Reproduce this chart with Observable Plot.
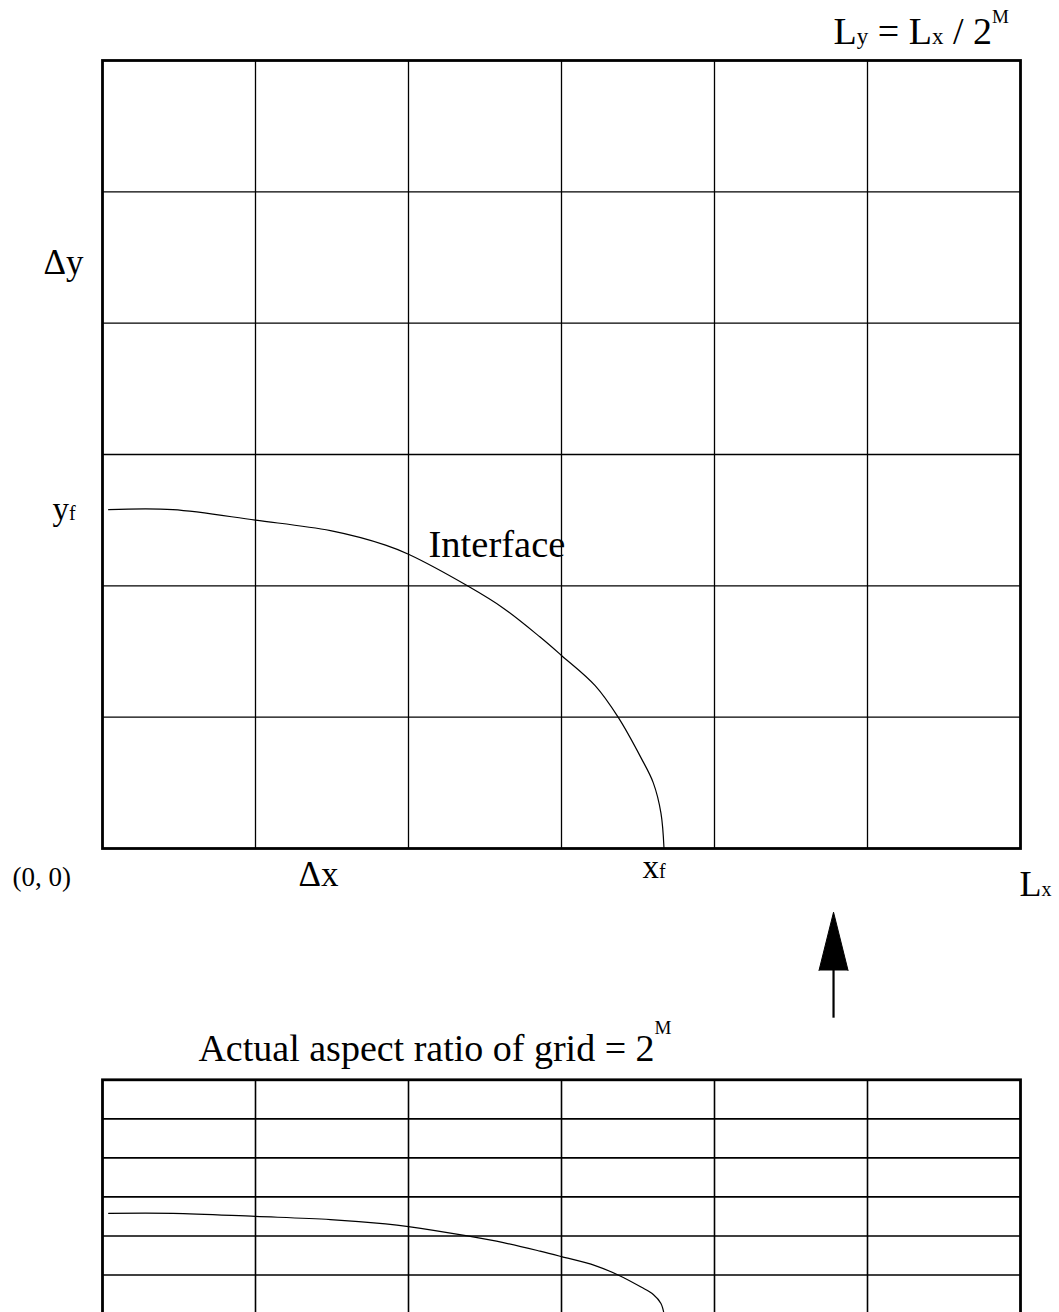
<!DOCTYPE html>
<html><head><meta charset="utf-8">
<script src="https://cdn.jsdelivr.net/npm/d3@7"></script>
<script src="https://cdn.jsdelivr.net/npm/@observablehq/plot@0.6"></script>
<style>
html,body{margin:0;padding:0;background:#fff;overflow:hidden;width:1059px;height:1312px}
#topPanel{position:absolute;left:0;top:0}
#bottomPanel{position:absolute;left:0;top:1025px}
svg{overflow:visible;background:transparent}
</style></head><body><div id="topPanel"></div><div id="bottomPanel"></div>
<script>
// ---- data (grid units: one cell = Δx by Δy) ----
const columns = [0, 1, 2, 3, 4, 5, 6];
const rows = [0, 1, 2, 3, 4, 5, 6];
const interfaceX = [0.04, 0.46, 1.0, 1.49, 1.85, 2.0, 2.385, 2.62, 2.86, 3.0, 3.22, 3.37, 3.52, 3.60, 3.65, 3.67];
const interfaceY = [2.58, 2.58, 2.50, 2.42, 2.31, 2.24, 2.0, 1.83, 1.61, 1.47, 1.24, 1.0, 0.69, 0.50, 0.27, 0.0];
const formulaParts = [["L", "big"], ["y", "sub"], ["\u00A0=\u00A0L", "big"], ["x", "sub"], ["\u00A0/\u00A02", "big"], ["M", "sup"]];
const deltaYParts = [["Δy", "big"]];
const yfParts = [["y", "big"], ["f", "sub"]];
const originParts = [["(0, 0)", "big"]];
const deltaXParts = [["Δx", "big"]];
const xfParts = [["x", "big"], ["f", "sub"]];
const lxParts = [["L", "big"], ["x", "sub"]];
const interfaceParts = [["Interface", "big"]];
const titleParts = [["Actual aspect ratio of grid = 2", "big"], ["M", "sup"]];

// ---- helpers ----
const FONT = "Liberation Serif";
const ctx = document.createElement("canvas").getContext("2d");
function measure(t, size) { ctx.font = `${size}px "${FONT}"`; return ctx.measureText(t).width; }
function label(parts, x, y, sizes) {
  let off = 0;
  const marks = [];
  for (const [t, kind] of parts) {
    const s = sizes[kind];
    marks.push(Plot.text([{x, y, t}], {
      x: "x", y: "y", text: "t", textAnchor: "start", lineAnchor: "bottom",
      dx: off, dy: -(sizes.raise && kind === "sup" ? sizes.raise : 0),
      fontSize: s, fontFamily: FONT, fill: "black"
    }));
    off += measure(t, s);
  }
  return marks;
}
const interfacePts = interfaceX.map((x, i) => ({x, y: interfaceY[i]}));
const inner = (arr) => arr.slice(1, -1);

// ---- top: grid in physical units ----
const arrowX = 4.778;
const arrowHead = [{x: arrowX - 0.095, y: -0.929}, {x: arrowX, y: -0.485}, {x: arrowX + 0.095, y: -0.929}];
const topChart = Plot.plot({
  width: 1059, height: 1025,
  marginLeft: 102, marginRight: 39, marginTop: 60, marginBottom: 177,
  x: {domain: [0, 6], axis: null},
  y: {domain: [0, 6], axis: null},
  style: {background: "transparent"},
  marks: [
    Plot.ruleX(inner(columns), {stroke: "black", strokeWidth: 1.3}),
    Plot.ruleY(inner(rows), {stroke: "black", strokeWidth: 1.3}),
    Plot.line(interfacePts, {x: "x", y: "y", curve: "catmull-rom", stroke: "black", strokeWidth: 1.2}),
    Plot.frame({stroke: "black", strokeWidth: 2.8}),
    Plot.ruleX([{x: arrowX, y1: -1.292, y2: -0.92}], {x: "x", y1: "y1", y2: "y2", stroke: "black", strokeWidth: 2.2}),
    Plot.line(arrowHead, {x: "x", y: "y", fill: "black", stroke: "black", strokeWidth: 1}),
    ...label(formulaParts, 4.778, 6.129, {big: 38, sub: 23, sup: 19, raise: 21}),
    ...label(deltaYParts, -0.386, 4.378, {big: 35}),
    ...label(yfParts, -0.327, 2.505, {big: 33, sub: 20}),
    ...label(originParts, -0.588, -0.282, {big: 27}),
    ...label(deltaXParts, 1.281, -0.282, {big: 35}),
    ...label(xfParts, 3.529, -0.228, {big: 33, sub: 20}),
    ...label(lxParts, 5.993, -0.358, {big: 36, sub: 20}),
    ...label(interfaceParts, 2.131, 2.223, {big: 38.5})
  ]
});
document.getElementById("topPanel").appendChild(topChart);

// ---- bottom: same grid at actual aspect ratio ----
const bottomChart = Plot.plot({
  width: 1059, height: 300,
  marginLeft: 102, marginRight: 39, marginTop: 54.3, marginBottom: 11.5,
  x: {domain: [0, 6], axis: null},
  y: {domain: [0, 6], axis: null},
  style: {background: "transparent"},
  marks: [
    Plot.ruleX(inner(columns), {stroke: "black", strokeWidth: 1.6}),
    Plot.ruleY(inner(rows), {stroke: "black", strokeWidth: 1.6}),
    Plot.line(interfacePts, {x: "x", y: "y", curve: "catmull-rom", stroke: "black", strokeWidth: 1.2}),
    Plot.frame({stroke: "black", strokeWidth: 2.8}),
    ...label(titleParts, 0.627, 6.494, {big: 38, sup: 19, raise: 27})
  ]
});
document.getElementById("bottomPanel").appendChild(bottomChart);
</script></body></html>
